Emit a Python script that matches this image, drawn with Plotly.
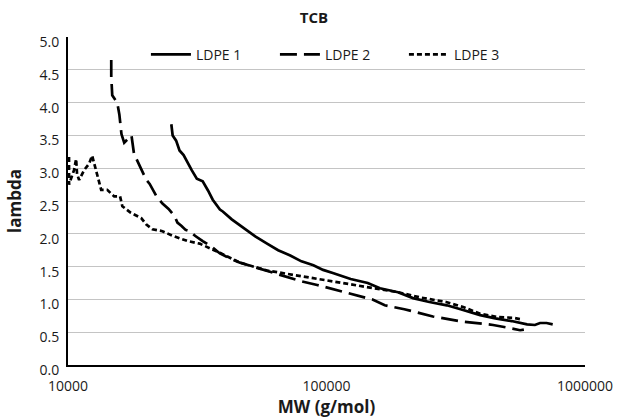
import plotly.graph_objects as go

# LDPE 1 (solid)
mw_ldpe1 = [25100, 25400, 26200, 27000, 28000, 28700, 29500, 30100, 31500, 33200, 34800,
            36300, 38700, 39700, 43000, 47500, 53000, 58900, 65000, 72400, 80000, 89000,
            97000, 106500, 124000, 144400, 161000, 189000, 216000, 250000, 292000, 330000,
            393000, 450000, 520000, 597000, 640000, 670000, 710000, 750000]
lam_ldpe1 = [3.67, 3.50, 3.42, 3.27, 3.20, 3.12, 3.02, 2.97, 2.84, 2.80, 2.66,
             2.52, 2.37, 2.34, 2.22, 2.09, 1.96, 1.85, 1.75, 1.67, 1.58, 1.52,
             1.45, 1.40, 1.31, 1.25, 1.17, 1.11, 1.02, 0.96, 0.91, 0.85,
             0.76, 0.71, 0.67, 0.62, 0.61, 0.64, 0.64, 0.62]

# LDPE 2 (long dash)
mw_ldpe2 = [14700, 14700, 14830, 15500, 15800, 16100, 16500, 17600, 18000, 19200, 20100,
            20700, 22000, 23200, 24500, 25850, 26500, 27500, 28500, 29600, 31000, 33200,
            36000, 38700, 42000, 46300, 52000, 58900, 68000, 79200, 92000, 110400, 132000,
            150000, 168000, 200000, 258000, 300000, 337000, 400000, 441000, 500000, 535000,
            561000, 580000]
lam_ldpe2 = [4.65, 4.40, 4.11, 4.00, 3.82, 3.52, 3.39, 3.50, 3.22, 2.97, 2.82,
             2.76, 2.57, 2.46, 2.38, 2.27, 2.17, 2.12, 2.06, 2.04, 1.97, 1.89,
             1.80, 1.70, 1.63, 1.56, 1.50, 1.44, 1.37, 1.28, 1.22, 1.14, 1.06,
             1.00, 0.91, 0.85, 0.74, 0.70, 0.66, 0.63, 0.61, 0.57, 0.55,
             0.53, 0.54]

# LDPE 3 (short dash)
mw_ldpe3 = [10090, 10090, 10550, 10750, 10840, 11040, 11540, 12070, 12400, 12850, 13200,
            13440, 14180, 15100, 15900, 16230, 17500, 19200, 20100, 21200, 23200, 25400,
            29000, 32300, 38700, 46300, 58900, 72400, 92000, 124000, 166700, 189000,
            230000, 290000, 340000, 393000, 460000, 526000, 560000]
lam_ldpe3 = [3.17, 2.75, 2.97, 3.14, 2.91, 2.82, 2.97, 3.07, 3.19, 2.97, 2.82,
             2.67, 2.67, 2.57, 2.57, 2.42, 2.32, 2.24, 2.14, 2.07, 2.04, 1.97,
             1.89, 1.85, 1.71, 1.56, 1.44, 1.38, 1.31, 1.23, 1.14, 1.11,
             1.03, 0.96, 0.88, 0.78, 0.73, 0.72, 0.70]

x_ticks = [10000, 100000, 1000000]
x_tick_labels = ["10000", "100000", "1000000"]

FONT = "'Open Sans', sans-serif"

fig = go.Figure()
fig.add_trace(go.Scatter(x=mw_ldpe1, y=lam_ldpe1, mode="lines", name="LDPE 1",
                         line=dict(color="black", width=2.7, dash="solid")))
fig.add_trace(go.Scatter(x=mw_ldpe2, y=lam_ldpe2, mode="lines", name="LDPE 2",
                         line=dict(color="black", width=2.7, dash="17px,7px")))
fig.add_trace(go.Scatter(x=mw_ldpe3, y=lam_ldpe3, mode="lines", name="LDPE 3",
                         line=dict(color="black", width=2.7, dash="5px,3px")))

fig.update_layout(
    width=628, height=419,
    margin=dict(l=68, r=43, t=37, b=47),
    paper_bgcolor="white", plot_bgcolor="white",
    font=dict(family=FONT, size=14, color="#1a1a1a"),
    title=dict(text="<b>TCB</b>", x=0.5, xanchor="center", y=1 - 18 / 419,
               yanchor="middle", yref="container", font=dict(size=15)),
    showlegend=True,
    legend=dict(orientation="h", x=0.525, xanchor="center", y=1 - 18 / 333,
                yanchor="middle", bgcolor="rgba(0,0,0,0)", font=dict(size=14),
                itemwidth=40, entrywidth=74, entrywidthmode="pixels", tracegroupgap=0),
    xaxis=dict(type="log", range=[4, 6], tickvals=x_ticks, ticktext=x_tick_labels,
               showgrid=False, showline=True, linecolor="black", linewidth=2,
               ticks="", zeroline=False, ticklabelstandoff=7,
               title=dict(text="<b>MW (g/mol)</b>", font=dict(size=17), standoff=0)),
    yaxis=dict(range=[0, 5], dtick=0.5, tickformat=".1f", showgrid=True,
               gridcolor="#c4c4c4", gridwidth=1, showline=True, linecolor="black",
               linewidth=2, ticks="", zeroline=False, ticklabelshift=5,
               ticklabelstandoff=4,
               title=dict(text="<b>lambda</b>", font=dict(size=17), standoff=14)),
)

fig.write_html("out.html", config={"displayModeBar": False},
               post_script="document.body.style.margin='0';document.body.style.padding='0';")
